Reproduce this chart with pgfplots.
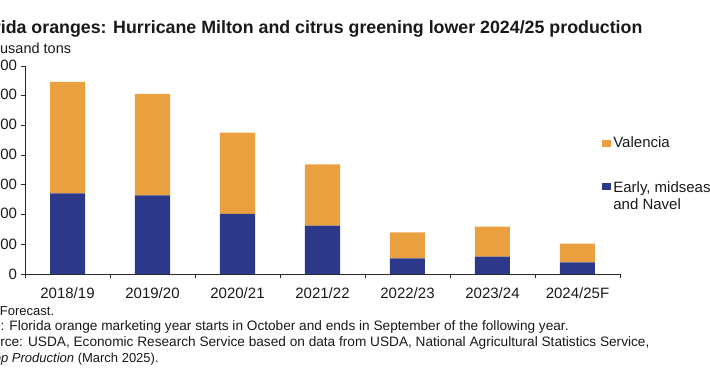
\documentclass[border=0pt]{standalone}
\usepackage{pgfplots}
\pgfplotsset{compat=1.18}
\usepackage{fontspec}
\setmainfont{Liberation Sans}
\definecolor{vorange}{RGB}{235,160,64}
\definecolor{vblue}{RGB}{44,56,138}
\definecolor{txt}{RGB}{25,25,25}
\definecolor{axc}{RGB}{40,40,40}
\begin{document}
\begin{tikzpicture}[x=1pt,y=1pt]
\useasboundingbox (0,0) rectangle (710,375);
\clip (0,0) rectangle (710,375);
\node[anchor=base west, font=\bfseries\fontsize{17.8}{20}\selectfont, text=txt, inner sep=0] at (-33,341.7) {Florida oranges: Hurricane Milton and citrus greening lower 2024/25 production};
\node[anchor=base west, font=\fontsize{14.5}{17}\selectfont, text=txt, inner sep=0] at (-25,321.7) {Thousand tons};
\begin{axis}[
  at={(25pt,101pt)}, anchor=south west,
  scale only axis, width=595pt, height=208pt,
  xmin=-0.5, xmax=6.5, ymin=0, ymax=3500,
  ybar stacked, bar width=35pt,
  axis x line*=bottom, axis y line*=left,
  axis line style={axc, line width=0.9pt},
  tick style={axc, line width=0.9pt},
  tick align=outside, major tick length=4.5pt,
  ytick={0,500,...,3500},
  xtick={-0.5,0.5,...,6.5},
  xticklabels={2018/19,2019/20,2020/21,2021/22,2022/23,2023/24,2024/25F},
  x tick label as interval,
  ticklabel style={font=\fontsize{15}{17}\selectfont, text=txt},
  xticklabel style={yshift=-6pt},
  /pgf/number format/assume math mode=true,
  /pgf/number format/1000 sep={,},
  reverse legend,
  legend image code/.code={\path[#1] (0pt,-3.5pt) rectangle (9pt,3.5pt);},
  legend style={at={(axis description cs:0.97,0.67)}, anchor=north west, draw=none, fill=none,
    font=\fontsize{15}{17}\selectfont, text=txt, row sep=27pt, inner sep=0pt,
    cells={anchor=west}},
]
\addplot[fill=vblue, draw=none] coordinates {(0,1358) (1,1324) (2,1010) (3,813) (4,264) (5,292) (6,197)};
\addlegendentry{\begin{tabular}[t]{@{}l@{}}Early, midseason\\and Navel\end{tabular}}
\addplot[fill=vorange, draw=none] coordinates {(0,1873) (1,1705) (2,1368) (3,1033) (4,438) (5,505) (6,314)};
\addlegendentry{Valencia}
\end{axis}
\node[anchor=base west, font=\fontsize{13}{15}\selectfont, text=txt, inner sep=0] at (-23,59.7) {F = Forecast.};
\node[anchor=base west, font=\fontsize{13.65}{15}\selectfont, text=txt, inner sep=0] at (-28.4,44.3) {Note: Florida orange marketing year starts in October and ends in September of the following year.};
\node[anchor=base west, font=\fontsize{13.65}{15}\selectfont, text=txt, inner sep=0] at (-24.2,28.3) {Source: USDA, Economic Research Service based on data from USDA, National Agricultural Statistics Service,};
\node[anchor=base west, font=\fontsize{13}{15}\selectfont, text=txt, inner sep=0] at (-20,12.7) {\textit{Crop Production} (March 2025).};
\end{tikzpicture}
\end{document}
